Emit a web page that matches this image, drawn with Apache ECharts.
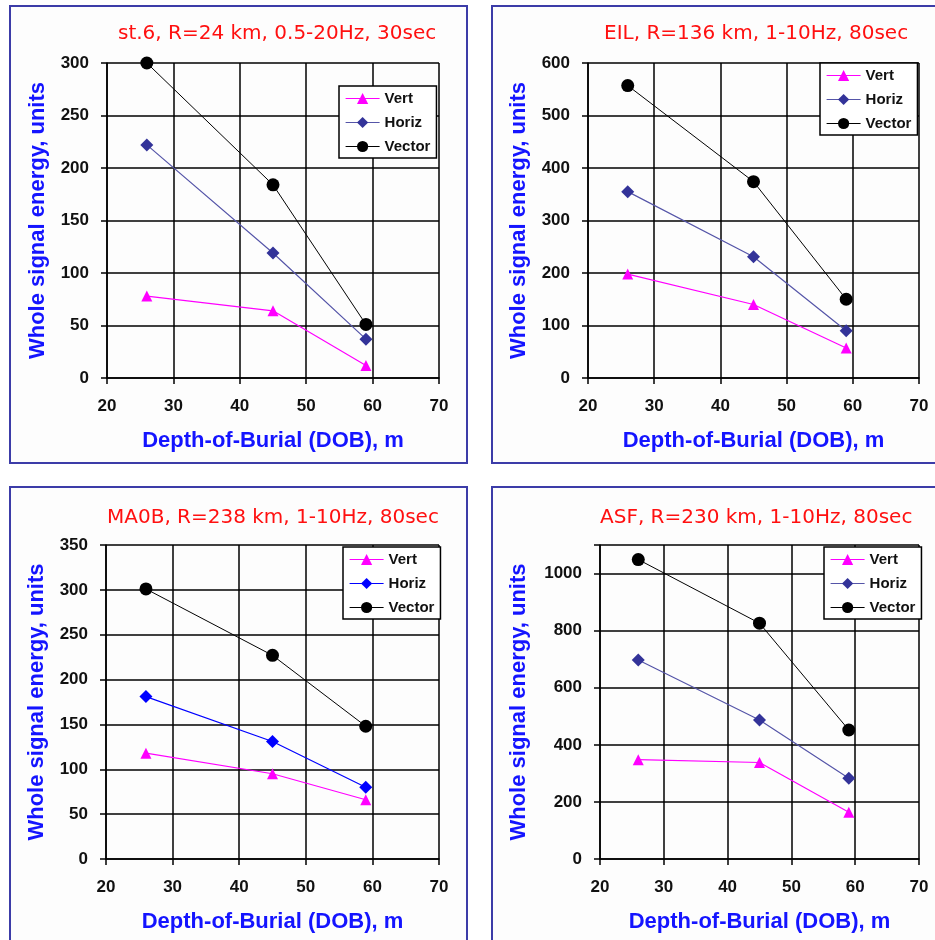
<!DOCTYPE html>
<html>
<head>
<meta charset="utf-8">
<script src="https://cdn.jsdelivr.net/npm/echarts@6/dist/echarts.min.js"></script>
<style>
  html, body { margin: 0; padding: 0; background: #ffffff; }
  #chart { width: 935px; height: 940px; }
</style>
</head>
<body>
<div id="chart"></div>
<script>
// Depth-of-burial values (m) shared by every station
const dob = [26, 45, 59];

// Station panel titles
const titles = [
  'st.6, R=24 km, 0.5-20Hz, 30sec',
  'EIL, R=136 km, 1-10Hz, 80sec',
  'MA0B, R=238 km, 1-10Hz, 80sec',
  'ASF, R=230 km, 1-10Hz, 80sec'
];

// Whole signal energy per station: vertical, horizontal and vector components
const vertSt6 = [78, 64, 12];
const horizSt6 = [222, 119, 37];
const vectorSt6 = [300, 184, 51];

const vertEIL = [198, 140, 57];
const horizEIL = [355, 231, 90];
const vectorEIL = [557, 374, 150];

const vertMA0B = [118, 95, 66];
const horizMA0B = [181, 131, 80];
const vectorMA0B = [301, 227, 148];

const vertASF = [348, 338, 164];
const horizASF = [697, 487, 283];
const vectorASF = [1049, 826, 452];

// Y-axis ranges and tick steps per panel
const yMax = [300, 600, 350, 1100];
const yStep = [50, 100, 50, 200];

// X-axis range and tick step
const xMin = 20, xMax = 70, xStep = 10;

const xName = 'Depth-of-Burial (DOB), m';
const yName = 'Whole signal energy, units';

const panelData = [
  { vert: vertSt6, horiz: horizSt6, vector: vectorSt6 },
  { vert: vertEIL, horiz: horizEIL, vector: vectorEIL },
  { vert: vertMA0B, horiz: horizMA0B, vector: vectorMA0B },
  { vert: vertASF, horiz: horizASF, vector: vectorASF }
];

// Layout of each panel
const grids = [
  { left: 107, top: 63, width: 332, height: 315 },
  { left: 588, top: 63, width: 331, height: 315 },
  { left: 106, top: 545, width: 333, height: 314 },
  { left: 600, top: 545, width: 319, height: 314 }
];
const titlePos = [
  { left: 118, top: 24 },
  { left: 604, top: 24 },
  { left: 107, top: 508 },
  { left: 600, top: 508 }
];
const legendPos = [
  { left: 339, top: 86 },
  { left: 820, top: 63 },
  { left: 343, top: 547 },
  { left: 824, top: 547 }
];
const yNameGap = [58, 58, 58, 70];
const horizColors = ['#333399', '#333399', '#0000ff', '#333399'];
const horizLineColors = ['#5555a8', '#5555a8', '#0000ff', '#5555a8'];

const VERT = '#ff00ff';
const VECTOR = '#000000';
const LABEL_FONT = 'Liberation Sans, Arial, sans-serif';

const xAxes = [], yAxes = [], series = [], legends = [], titleList = [];

grids.forEach(function (g, i) {
  xAxes.push({
    type: 'value', gridIndex: i, min: xMin, max: xMax, interval: xStep,
    name: xName, nameLocation: 'middle', nameGap: 52,
    nameTextStyle: { color: '#1414ff', fontSize: 22, fontWeight: 'bold', fontFamily: LABEL_FONT },
    axisLine: { show: true, lineStyle: { color: '#000', width: 1.5 } },
    axisTick: { show: true, inside: false, length: 6, lineStyle: { color: '#000', width: 1.5 } },
    axisLabel: { color: '#111', fontSize: 17, fontWeight: 'bold', fontFamily: LABEL_FONT, margin: 20 },
    splitLine: { show: true, lineStyle: { color: '#000', width: 1.5 } }
  });
  yAxes.push({
    type: 'value', gridIndex: i, min: 0, max: yMax[i], interval: yStep[i],
    name: yName, nameLocation: 'middle', nameGap: yNameGap[i], nameRotate: 90,
    nameTextStyle: { color: '#1414ff', fontSize: 22, fontWeight: 'bold', fontFamily: LABEL_FONT },
    axisLine: { show: true, lineStyle: { color: '#000', width: 1.5 } },
    axisTick: { show: true, inside: false, length: 6, lineStyle: { color: '#000', width: 1.5 } },
    axisLabel: {
      color: '#111', fontSize: 17, fontWeight: 'bold', fontFamily: LABEL_FONT, margin: 18,
      formatter: (function (step) {
        return function (v) { return v % step === 0 ? String(v) : ''; };
      })(yStep[i])
    },
    splitLine: { show: true, lineStyle: { color: '#000', width: 1.5 } }
  });

  const d = panelData[i];
  const pair = function (arr) { return dob.map(function (x, k) { return [x, arr[k]]; }); };

  series.push({
    name: 'Vert', type: 'line', xAxisIndex: i, yAxisIndex: i,
    data: pair(d.vert), symbol: 'triangle', symbolSize: 11,
    itemStyle: { color: VERT }, lineStyle: { color: VERT, width: 1.2 }, z: 3
  });
  series.push({
    name: 'Horiz', type: 'line', xAxisIndex: i, yAxisIndex: i,
    data: pair(d.horiz), symbol: 'diamond', symbolSize: 13,
    itemStyle: { color: horizColors[i] }, lineStyle: { color: horizLineColors[i], width: 1.2 }, z: 4
  });
  series.push({
    name: 'Vector', type: 'line', xAxisIndex: i, yAxisIndex: i,
    data: pair(d.vector), symbol: 'circle', symbolSize: 13,
    itemStyle: { color: VECTOR }, lineStyle: { color: VECTOR, width: 1 }, z: 5
  });

  legends.push({
    left: legendPos[i].left, top: legendPos[i].top, orient: 'vertical',
    backgroundColor: '#ffffff', borderColor: '#000', borderWidth: 1.5,
    padding: [5, 6, 4, 6], itemGap: 9, itemWidth: 34, itemHeight: 14,
    selectedMode: false,
    textStyle: { color: '#111', fontSize: 15, fontWeight: 'bold', fontFamily: LABEL_FONT },
    data: [
      { name: 'Vert', itemStyle: { color: VERT }, lineStyle: { color: VERT, width: 1.2 } },
      { name: 'Horiz', itemStyle: { color: horizColors[i] }, lineStyle: { color: horizLineColors[i], width: 1.2 } },
      { name: 'Vector', itemStyle: { color: VECTOR }, lineStyle: { color: VECTOR, width: 1.2 } }
    ]
  });

  titleList.push({
    text: titles[i], left: titlePos[i].left, top: titlePos[i].top, padding: 0,
    textStyle: { color: '#ff1010', fontSize: 20, fontWeight: 'normal', fontFamily: 'DejaVu Sans, sans-serif' }
  });
});

// Framed panels behind each chart
const frame = { stroke: '#3c3ca8', lineWidth: 2, fill: '#fdfdfd' };
const graphics = [
  { type: 'rect', shape: { x: 10, y: 6, width: 457, height: 457 }, style: frame, z: -10, silent: true },
  { type: 'rect', shape: { x: 492, y: 6, width: 460, height: 457 }, style: frame, z: -10, silent: true },
  { type: 'rect', shape: { x: 10, y: 487, width: 457, height: 470 }, style: frame, z: -10, silent: true },
  { type: 'rect', shape: { x: 492, y: 487, width: 460, height: 470 }, style: frame, z: -10, silent: true }
];

const chart = echarts.init(document.getElementById('chart'), null, { renderer: 'canvas' });
chart.setOption({
  animation: false,
  backgroundColor: '#ffffff',
  title: titleList,
  legend: legends,
  grid: grids,
  xAxis: xAxes,
  yAxis: yAxes,
  series: series,
  graphic: graphics
});
</script>
</body>
</html>
